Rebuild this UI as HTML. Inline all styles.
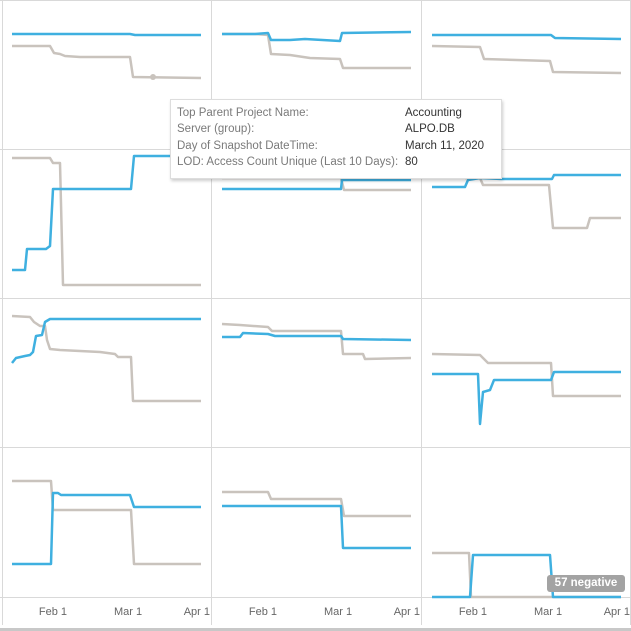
<!DOCTYPE html>
<html><head><style>
body{margin:0;width:631px;height:631px;background:#fff;overflow:hidden;position:relative;font-family:"Liberation Sans",sans-serif}
.tt{position:absolute;left:170px;top:99px;width:330px;height:78px;background:#fff;border:1px solid #ddd;box-shadow:1px 2px 3px rgba(0,0,0,.2);font-size:11.5px;color:#7a7a7a}
.tt div{position:absolute;white-space:nowrap}
.v{color:#333}
.badge{position:absolute;left:547px;top:575px;width:78px;height:17px;background:#a3a3a3;border-radius:3px;color:#fff;font-weight:bold;font-size:11.5px;line-height:17px;text-align:center}
</style></head><body>
<svg width="631" height="631" style="position:absolute;left:0;top:0">
<g stroke="#d9d9d9" stroke-width="1" fill="none">
<line x1="0" y1="0.5" x2="631" y2="0.5"/>
<line x1="2.5" y1="0" x2="2.5" y2="625"/>
<line x1="211.5" y1="0" x2="211.5" y2="625"/>
<line x1="421.5" y1="0" x2="421.5" y2="625"/>
<line x1="630.5" y1="0" x2="630.5" y2="625"/>
<line x1="0" y1="149.5" x2="631" y2="149.5"/>
<line x1="0" y1="298.5" x2="631" y2="298.5"/>
<line x1="0" y1="447.5" x2="631" y2="447.5"/>
<line x1="0" y1="597.5" x2="631" y2="597.5"/>
</g>
<rect x="0" y="628" width="631" height="3" fill="#c8c8c8"/>
<g fill="none" stroke-width="2.5" stroke-linejoin="round">
<!-- row1 -->
<polyline stroke="#c9c3bd" points="12,46 50,46 54,53 60,54 65,56 80,57 130,57 133,77 201,78"/>
<circle cx="153" cy="77" r="3" fill="#c9c3bd" stroke="none"/>
<polyline stroke="#3fb0e0" points="12,34 130,34 135,35 201,35"/>
<polyline stroke="#c9c3bd" points="222,34 255,34 268,35 271,54 290,55 310,58 340,59 343,68 411,68"/>
<polyline stroke="#3fb0e0" points="222,34 255,34 268,33 271,40 290,40 305,39 340,41 342,33 411,32"/>
<polyline stroke="#c9c3bd" points="432,46 480,47 484,59 550,61 553,72 621,73"/>
<polyline stroke="#3fb0e0" points="432,35 551,35 555,38 621,39"/>
<!-- row2 -->
<polyline stroke="#c9c3bd" points="12,158 50,158 53,163 60,163 63,285 201,285"/>
<polyline stroke="#3fb0e0" points="12,270 25,270 27,249 46,249 50,246 53,189 131,189 134,156 201,156"/>
<polyline stroke="#c9c3bd" points="222,178 341,178 344,190 411,190"/>
<polyline stroke="#3fb0e0" points="222,189 341,189 342,180 411,180"/>
<polyline stroke="#c9c3bd" points="465,178 480,178 483,185 549,185 553,228 587,228 590,218 621,218"/>
<polyline stroke="#3fb0e0" points="432,187 465,187 468,180 480,178 502,179 552,179 554,175 621,175"/>
<!-- row3 -->
<polyline stroke="#c9c3bd" points="12,316 30,317 34,322 40,326 45,326 47,340 50,349 60,350 100,352 115,354 118,357 131,357 133,401 201,401"/>
<polyline stroke="#3fb0e0" points="12,363 16,358 25,356 30,355 33,352 36,336 42,335 45,322 50,319 201,319"/>
<polyline stroke="#c9c3bd" points="222,324 240,325 268,327 272,331 341,331 343,354 363,354 365,359 411,358"/>
<polyline stroke="#3fb0e0" points="222,337 240,337 243,333 268,334 275,336 341,336 343,339 411,340"/>
<polyline stroke="#c9c3bd" points="432,354 480,355 488,363 551,363 553,396 621,396"/>
<polyline stroke="#3fb0e0" points="432,374 478,374 480,424 483,392 490,390 494,380 551,380 554,372 621,372"/>
<!-- row4 -->
<polyline stroke="#c9c3bd" points="12,481 51,481 53,510 131,510 134,564 201,564"/>
<polyline stroke="#3fb0e0" points="12,564 51,564 53,493 58,493 61,495 130,495 134,507 201,507"/>
<polyline stroke="#c9c3bd" points="222,492 268,492 271,499 341,499 344,516 411,516"/>
<polyline stroke="#3fb0e0" points="222,506 341,506 343,548 411,548"/>
<polyline stroke="#c9c3bd" points="432,553 469,553 471,597 621,597"/>
<polyline stroke="#3fb0e0" points="432,597 470,597 473,555 550,555 553,597 621,597"/>
</g>
<g font-family="Liberation Sans, sans-serif" font-size="11" fill="#666">
<text x="53" y="615" text-anchor="middle">Feb 1</text>
<text x="128" y="615" text-anchor="middle">Mar 1</text>
<text x="210" y="615" text-anchor="end">Apr 1</text>
<text x="263" y="615" text-anchor="middle">Feb 1</text>
<text x="338" y="615" text-anchor="middle">Mar 1</text>
<text x="420" y="615" text-anchor="end">Apr 1</text>
<text x="473" y="615" text-anchor="middle">Feb 1</text>
<text x="548" y="615" text-anchor="middle">Mar 1</text>
<text x="630" y="615" text-anchor="end">Apr 1</text>
</g>
</svg>
<div class="tt">
<div style="left:6px;top:7px">Top Parent Project Name:</div>
<div style="left:6px;top:23px">Server (group):</div>
<div style="left:6px;top:40px">Day of Snapshot DateTime:</div>
<div style="left:6px;top:56px">LOD: Access Count Unique (Last 10 Days):</div>
<div class="v" style="left:234px;top:7px">Accounting</div>
<div class="v" style="left:234px;top:23px">ALPO.DB</div>
<div class="v" style="left:234px;top:40px">March 11, 2020</div>
<div class="v" style="left:234px;top:56px">80</div>
</div>
<div class="badge">57 negative</div>
</body></html>
